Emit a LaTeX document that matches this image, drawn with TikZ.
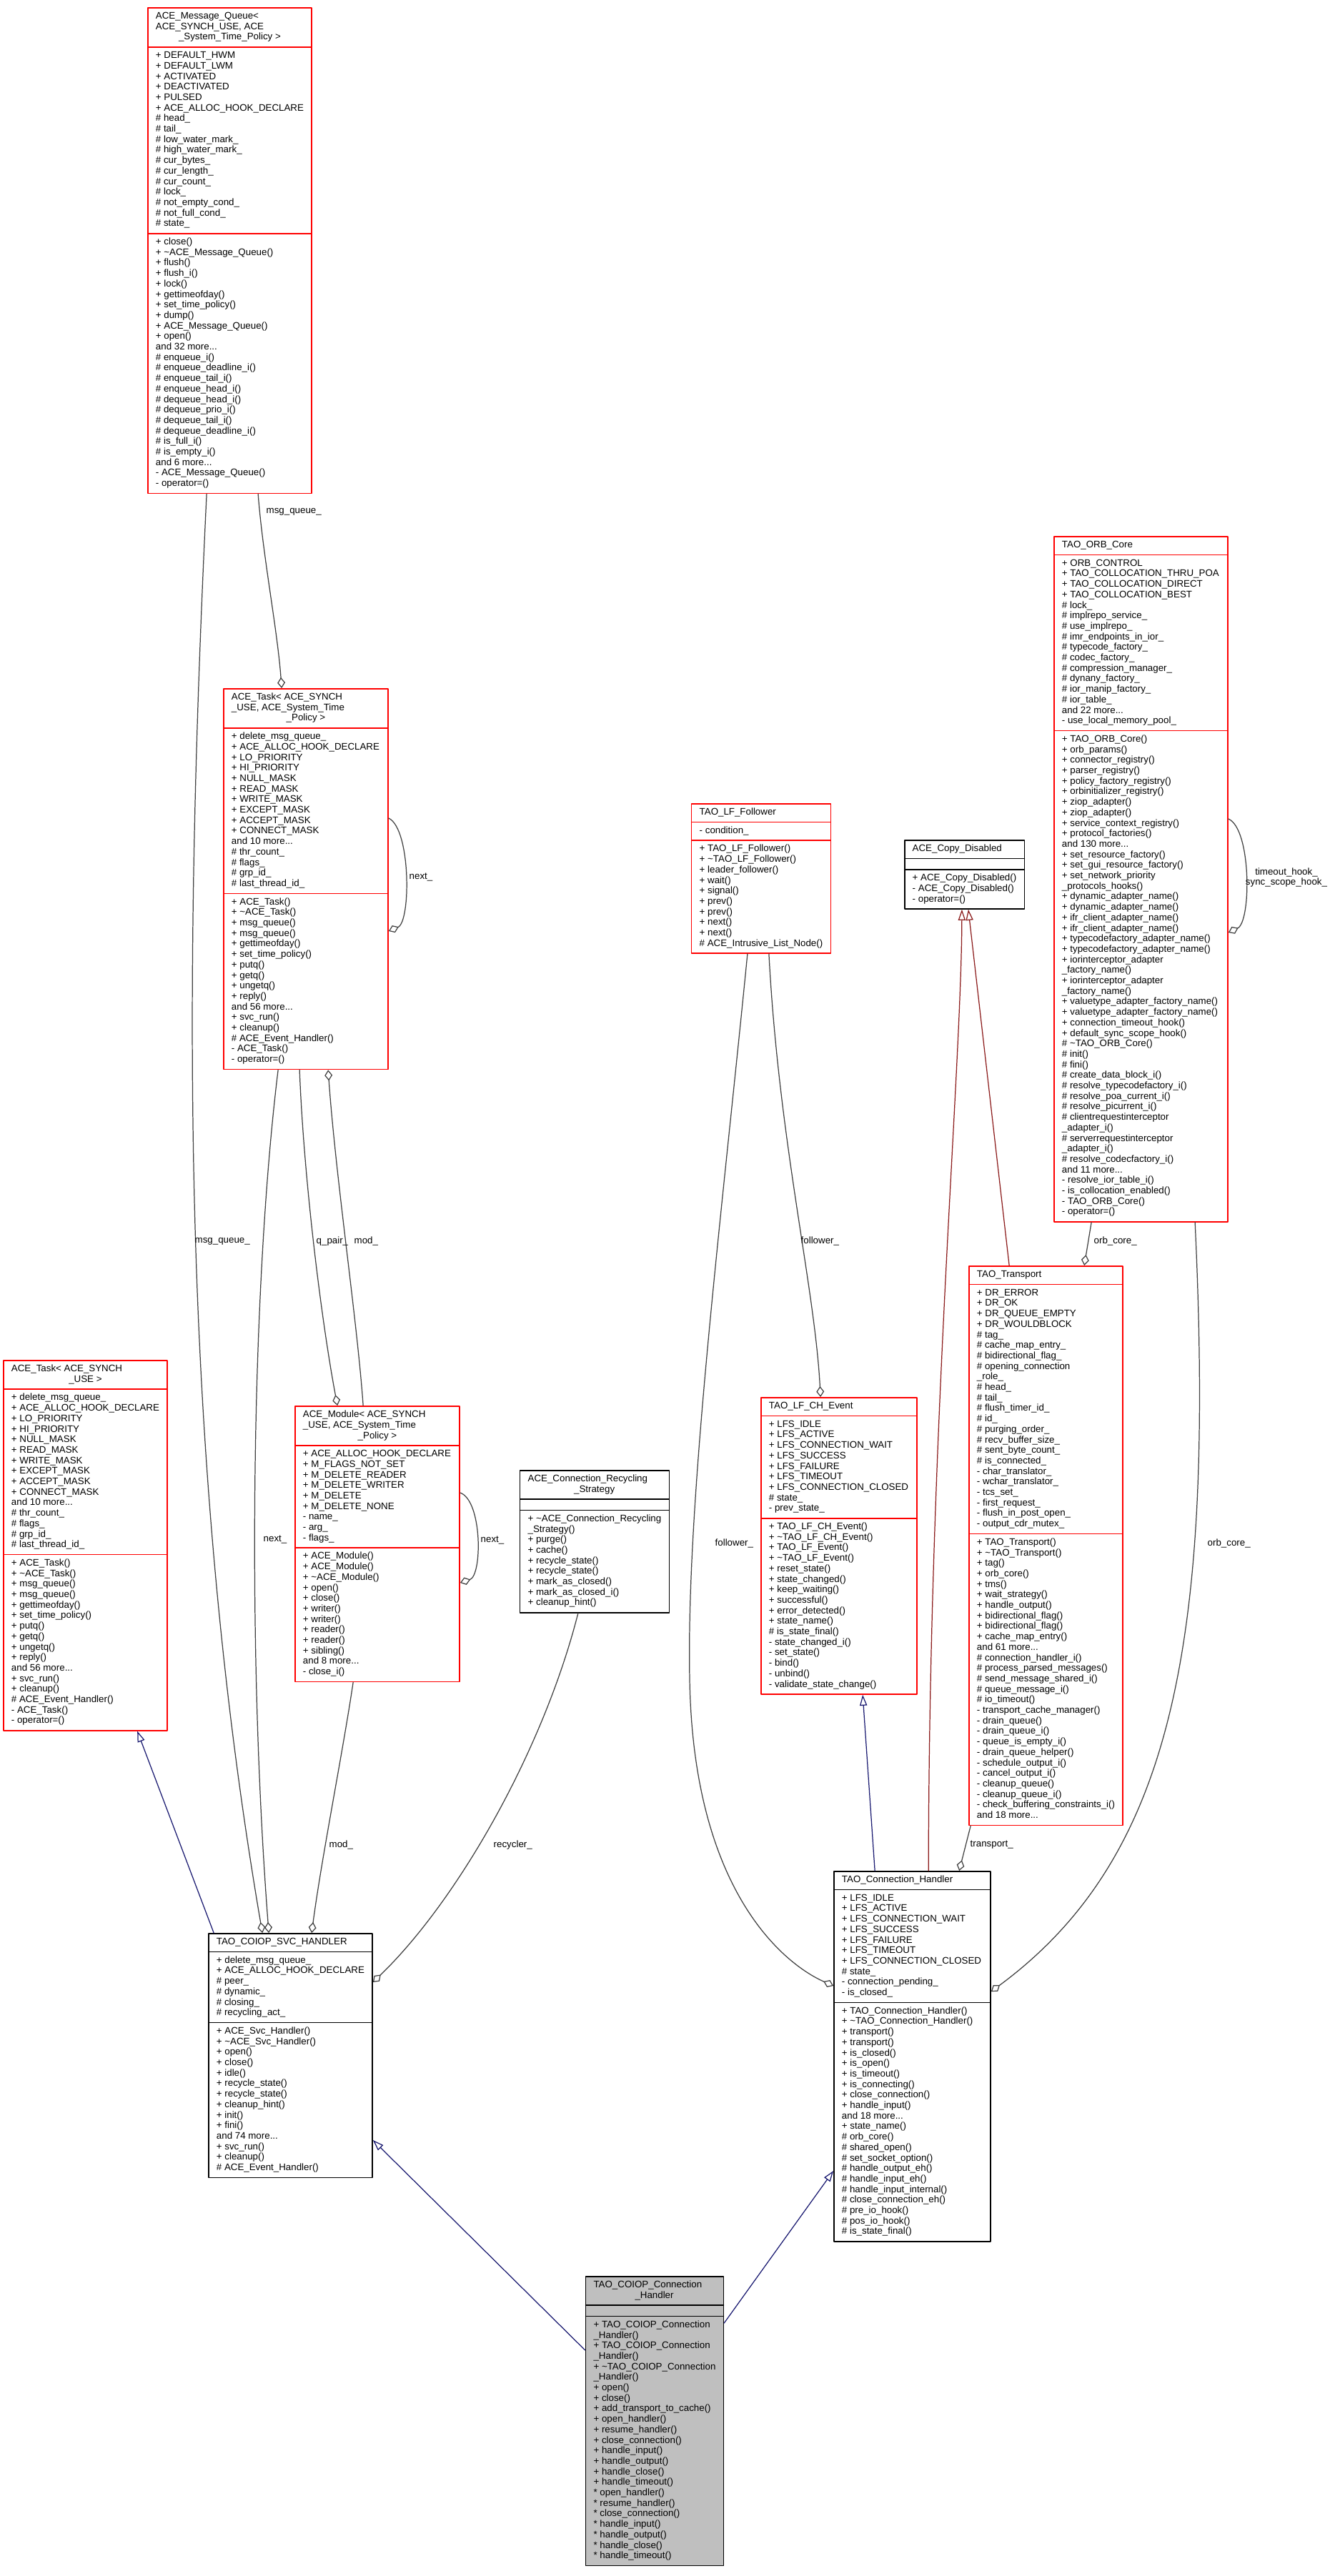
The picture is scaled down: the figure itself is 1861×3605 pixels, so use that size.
\documentclass[tikz,border=0pt]{standalone}
\usepackage{fontspec}
\setmainfont{Liberation Sans}
\usetikzlibrary{arrows.meta,shapes.multipart,calc}
\definecolor{edgegray}{RGB}{64,64,64}
\definecolor{edgeblue}{RGB}{25,25,112}
\definecolor{edgered}{RGB}{139,26,26}
\definecolor{boxgray}{RGB}{191,191,191}
\newdimen\pxu \pxu=0.01cm
\newcommand{\sect}[1]{\begin{tabular}{@{}l@{}}#1\end{tabular}}
\newcommand{\hdr}[2]{\begin{tabular}{@{}p{#1\pxu}@{}}#2\end{tabular}}
\newcommand{\lc}[1]{\multicolumn{1}{@{}c@{}}{#1}}
\newcommand{\tld}{\textasciitilde}
\newcommand{\taskattrs}{\sect{+ delete\_msg\_queue\_\\+ ACE\_ALLOC\_HOOK\_DECLARE\\+ LO\_PRIORITY\\+ HI\_PRIORITY\\+ NULL\_MASK\\+ READ\_MASK\\+ WRITE\_MASK\\+ EXCEPT\_MASK\\+ ACCEPT\_MASK\\+ CONNECT\_MASK\\and 10 more...\\\# thr\_count\_\\\# flags\_\\\# grp\_id\_\\\# last\_thread\_id\_}}
\newcommand{\taskops}{\sect{+ ACE\_Task()\\+ \tld ACE\_Task()\\+ msg\_queue()\\+ msg\_queue()\\+ gettimeofday()\\+ set\_time\_policy()\\+ putq()\\+ getq()\\+ ungetq()\\+ reply()\\and 56 more...\\+ svc\_run()\\+ cleanup()\\\# ACE\_Event\_Handler()\\- ACE\_Task()\\- operator=()}}
\newcommand{\lfsstates}{+ LFS\_IDLE\\+ LFS\_ACTIVE\\+ LFS\_CONNECTION\_WAIT\\+ LFS\_SUCCESS\\+ LFS\_FAILURE\\+ LFS\_TIMEOUT\\+ LFS\_CONNECTION\_CLOSED}
\tikzset{
  every picture/.style={line join=round, line cap=round},
  dxfont/.style={font=\fontsize{3.79pt}{4.18pt}\selectfont},
  cls/.style={rectangle split, rectangle split parts=3, draw=red, fill=white,
    line width=0.45pt, anchor=north, inner xsep=0.11cm, inner ysep=0.047cm,
    rectangle split part align={left,left,left}, dxfont},
  known/.style={cls, draw=black},
  agg/.style={draw=edgegray, line width=0.35pt, -{Diamond[open,length=4.3pt,width=3.1pt]}},
  pub/.style={draw=edgeblue, line width=0.35pt, -{Triangle[open,length=4.3pt,width=2.9pt]}},
  priv/.style={draw=edgered, line width=0.35pt, -{Triangle[open,length=4.3pt,width=2.9pt]}},
  lbl/.style={dxfont, inner sep=0pt, anchor=west},
}
\begin{document}
\begin{tikzpicture}[x=0.01cm,y=-0.01cm]
\useasboundingbox (0,0) rectangle (1861,3605);
% classes
\node[cls, minimum width=2.29cm] (mq) at (321.5,10) {\hdr{207}{ACE\_Message\_Queue<\\ACE\_SYNCH\_USE, ACE\\\lc{\_System\_Time\_Policy >}}
  \nodepart{two}\sect{+ DEFAULT\_HWM\\+ DEFAULT\_LWM\\+ ACTIVATED\\+ DEACTIVATED\\+ PULSED\\+ ACE\_ALLOC\_HOOK\_DECLARE\\\# head\_\\\# tail\_\\\# low\_water\_mark\_\\\# high\_water\_mark\_\\\# cur\_bytes\_\\\# cur\_length\_\\\# cur\_count\_\\\# lock\_\\\# not\_empty\_cond\_\\\# not\_full\_cond\_\\\# state\_}
  \nodepart{three}\sect{+ close()\\+ \tld ACE\_Message\_Queue()\\+ flush()\\+ flush\_i()\\+ lock()\\+ gettimeofday()\\+ set\_time\_policy()\\+ dump()\\+ ACE\_Message\_Queue()\\+ open()\\and 32 more...\\\# enqueue\_i()\\\# enqueue\_deadline\_i()\\\# enqueue\_tail\_i()\\\# enqueue\_head\_i()\\\# dequeue\_head\_i()\\\# dequeue\_prio\_i()\\\# dequeue\_tail\_i()\\\# dequeue\_deadline\_i()\\\# is\_full\_i()\\\# is\_empty\_i()\\and 6 more...\\- ACE\_Message\_Queue()\\- operator=()}};
\node[cls, minimum width=2.30cm] (task) at (428,963) {\hdr{208}{ACE\_Task< ACE\_SYNCH\\\_USE, ACE\_System\_Time\\\lc{\_Policy >}}
  \nodepart{two}\taskattrs \nodepart{three}\taskops};
\node[cls, minimum width=2.43cm] (orb) at (1596.5,750) {\hdr{221}{\lc{TAO\_ORB\_Core}}
  \nodepart{two}\sect{+ ORB\_CONTROL\\+ TAO\_COLLOCATION\_THRU\_POA\\+ TAO\_COLLOCATION\_DIRECT\\+ TAO\_COLLOCATION\_BEST\\\# lock\_\\\# implrepo\_service\_\\\# use\_implrepo\_\\\# imr\_endpoints\_in\_ior\_\\\# typecode\_factory\_\\\# codec\_factory\_\\\# compression\_manager\_\\\# dynany\_factory\_\\\# ior\_manip\_factory\_\\\# ior\_table\_\\and 22 more...\\- use\_local\_memory\_pool\_}
  \nodepart{three}\sect{+ TAO\_ORB\_Core()\\+ orb\_params()\\+ connector\_registry()\\+ parser\_registry()\\+ policy\_factory\_registry()\\+ orbinitializer\_registry()\\+ ziop\_adapter()\\+ ziop\_adapter()\\+ service\_context\_registry()\\+ protocol\_factories()\\and 130 more...\\+ set\_resource\_factory()\\+ set\_gui\_resource\_factory()\\+ set\_network\_priority\\\_protocols\_hooks()\\+ dynamic\_adapter\_name()\\+ dynamic\_adapter\_name()\\+ ifr\_client\_adapter\_name()\\+ ifr\_client\_adapter\_name()\\+ typecodefactory\_adapter\_name()\\+ typecodefactory\_adapter\_name()\\+ iorinterceptor\_adapter\\\_factory\_name()\\+ iorinterceptor\_adapter\\\_factory\_name()\\+ valuetype\_adapter\_factory\_name()\\+ valuetype\_adapter\_factory\_name()\\+ connection\_timeout\_hook()\\+ default\_sync\_scope\_hook()\\\# \tld TAO\_ORB\_Core()\\\# init()\\\# fini()\\\# create\_data\_block\_i()\\\# resolve\_typecodefactory\_i()\\\# resolve\_poa\_current\_i()\\\# resolve\_picurrent\_i()\\\# clientrequestinterceptor\\\_adapter\_i()\\\# serverrequestinterceptor\\\_adapter\_i()\\\# resolve\_codecfactory\_i()\\and 11 more...\\- resolve\_ior\_table\_i()\\- is\_collocation\_enabled()\\- TAO\_ORB\_Core()\\- operator=()}};
\node[cls, minimum width=1.92cm] (follow) at (1065,1124) {\hdr{170}{\lc{TAO\_LF\_Follower}}
  \nodepart{two}\sect{- condition\_}
  \nodepart{three}\sect{+ TAO\_LF\_Follower()\\+ \tld TAO\_LF\_Follower()\\+ leader\_follower()\\+ wait()\\+ signal()\\+ prev()\\+ prev()\\+ next()\\+ next()\\\# ACE\_Intrusive\_List\_Node()}};
\node[known, minimum width=1.67cm] (copy) at (1349.5,1175) {\hdr{145}{\lc{ACE\_Copy\_Disabled}}
  \nodepart{two}\sect{}
  \nodepart{three}\sect{+ ACE\_Copy\_Disabled()\\- ACE\_Copy\_Disabled()\\- operator=()}};
\node[cls, minimum width=2.29cm] (tasku) at (119.5,1903) {\hdr{207}{ACE\_Task< ACE\_SYNCH\\\lc{\_USE >}}
  \nodepart{two}\taskattrs \nodepart{three}\taskops};
\node[cls, minimum width=2.30cm] (module) at (528,1967) {\hdr{208}{ACE\_Module< ACE\_SYNCH\\\_USE, ACE\_System\_Time\\\lc{\_Policy >}}
  \nodepart{two}\sect{+ ACE\_ALLOC\_HOOK\_DECLARE\\+ M\_FLAGS\_NOT\_SET\\+ M\_DELETE\_READER\\+ M\_DELETE\_WRITER\\+ M\_DELETE\\+ M\_DELETE\_NONE\\- name\_\\- arg\_\\- flags\_}
  \nodepart{three}\sect{+ ACE\_Module()\\+ ACE\_Module()\\+ \tld ACE\_Module()\\+ open()\\+ close()\\+ writer()\\+ writer()\\+ reader()\\+ reader()\\+ sibling()\\and 8 more...\\- close\_i()}};
\node[known, minimum width=2.08cm] (recyc) at (832,2057) {\hdr{186}{ACE\_Connection\_Recycling\\\lc{\_Strategy}}
  \nodepart{two}\sect{}
  \nodepart{three}\sect{+ \tld ACE\_Connection\_Recycling\\\_Strategy()\\+ purge()\\+ cache()\\+ recycle\_state()\\+ recycle\_state()\\+ mark\_as\_closed()\\+ mark\_as\_closed\_i()\\+ cleanup\_hint()}};
\node[cls, minimum width=2.18cm] (lfch) at (1174,1955) {\hdr{196}{\lc{TAO\_LF\_CH\_Event}}
  \nodepart{two}\sect{\lfsstates\\\# state\_\\- prev\_state\_}
  \nodepart{three}\sect{+ TAO\_LF\_CH\_Event()\\+ \tld TAO\_LF\_CH\_Event()\\+ TAO\_LF\_Event()\\+ \tld TAO\_LF\_Event()\\+ reset\_state()\\+ state\_changed()\\+ keep\_waiting()\\+ successful()\\+ error\_detected()\\+ state\_name()\\\# is\_state\_final()\\- state\_changed\_i()\\- set\_state()\\- bind()\\- unbind()\\- validate\_state\_change()}};
\node[cls, minimum width=2.11cm] (transp) at (1463.5,1771) {\hdr{189}{\lc{TAO\_Transport}}
  \nodepart{two}\sect{+ DR\_ERROR\\+ DR\_OK\\+ DR\_QUEUE\_EMPTY\\+ DR\_WOULDBLOCK\\\# tag\_\\\# cache\_map\_entry\_\\\# bidirectional\_flag\_\\\# opening\_connection\\\_role\_\\\# head\_\\\# tail\_\\\# flush\_timer\_id\_\\\# id\_\\\# purging\_order\_\\\# recv\_buffer\_size\_\\\# sent\_byte\_count\_\\\# is\_connected\_\\- char\_translator\_\\- wchar\_translator\_\\- tcs\_set\_\\- first\_request\_\\- flush\_in\_post\_open\_\\- output\_cdr\_mutex\_}
  \nodepart{three}\sect{+ TAO\_Transport()\\+ \tld TAO\_Transport()\\+ tag()\\+ orb\_core()\\+ tms()\\+ wait\_strategy()\\+ handle\_output()\\+ bidirectional\_flag()\\+ bidirectional\_flag()\\+ cache\_map\_entry()\\and 61 more...\\\# connection\_handler\_i()\\\# process\_parsed\_messages()\\\# send\_message\_shared\_i()\\\# queue\_message\_i()\\\# io\_timeout()\\- transport\_cache\_manager()\\- drain\_queue()\\- drain\_queue\_i()\\- queue\_is\_empty\_i()\\- drain\_queue\_helper()\\- schedule\_output\_i()\\- cancel\_output\_i()\\- cleanup\_queue()\\- cleanup\_queue\_i()\\- check\_buffering\_constraints\_i()\\and 18 more...}};
\node[known, minimum width=2.29cm] (svc) at (406.5,2705) {\hdr{207}{\lc{TAO\_COIOP\_SVC\_HANDLER}}
  \nodepart{two}\sect{+ delete\_msg\_queue\_\\+ ACE\_ALLOC\_HOOK\_DECLARE\\\# peer\_\\\# dynamic\_\\\# closing\_\\\# recycling\_act\_}
  \nodepart{three}\sect{+ ACE\_Svc\_Handler()\\+ \tld ACE\_Svc\_Handler()\\+ open()\\+ close()\\+ idle()\\+ recycle\_state()\\+ recycle\_state()\\+ cleanup\_hint()\\+ init()\\+ fini()\\and 74 more...\\+ svc\_run()\\+ cleanup()\\\# ACE\_Event\_Handler()}};
\node[known, minimum width=2.19cm] (tch) at (1276.5,2618) {\hdr{197}{\lc{TAO\_Connection\_Handler}}
  \nodepart{two}\sect{\lfsstates\\\# state\_\\- connection\_pending\_\\- is\_closed\_}
  \nodepart{three}\sect{+ TAO\_Connection\_Handler()\\+ \tld TAO\_Connection\_Handler()\\+ transport()\\+ transport()\\+ is\_closed()\\+ is\_open()\\+ is\_timeout()\\+ is\_connecting()\\+ close\_connection()\\+ handle\_input()\\and 18 more...\\+ state\_name()\\\# orb\_core()\\\# shared\_open()\\\# set\_socket\_option()\\\# handle\_output\_eh()\\\# handle\_input\_eh()\\\# handle\_input\_internal()\\\# close\_connection\_eh()\\\# pre\_io\_hook()\\\# pos\_io\_hook()\\\# is\_state\_final()}};
\node[known, fill=boxgray, minimum width=1.92cm] (coiop) at (916,3185) {\hdr{170}{TAO\_COIOP\_Connection\\\lc{\_Handler}}
  \nodepart{two}\sect{}
  \nodepart{three}\sect{+ TAO\_COIOP\_Connection\\\_Handler()\\+ TAO\_COIOP\_Connection\\\_Handler()\\+ \tld TAO\_COIOP\_Connection\\\_Handler()\\+ open()\\+ close()\\+ add\_transport\_to\_cache()\\+ open\_handler()\\+ resume\_handler()\\+ close\_connection()\\+ handle\_input()\\+ handle\_output()\\+ handle\_close()\\+ handle\_timeout()\\{*} open\_handler()\\{*} resume\_handler()\\{*} close\_connection()\\{*} handle\_input()\\{*} handle\_output()\\{*} handle\_close()\\{*} handle\_timeout()}};
% members
\draw[agg] ($(mq.south west)+(155,0)$) .. controls (368,780) and (388,880) .. ($(task.north west)+(82,0)$);
\draw[agg] ($(mq.south west)+(83,0)$) .. controls (255,1400) and (255,2050) .. ($(svc.north west)+(76,0)$);
\draw[agg] ($(task.north east)+(0,182)$) .. controls (575,1160) and (575,1290) .. ($(task.north east)+(0,340)$);
\draw[agg] ($(task.south west)+(107,0)$) .. controls (425,1650) and (450,1850) .. ($(module.north west)+(60,0)$);
\draw[agg] ($(module.north west)+(96,0)$) .. controls (500,1850) and (470,1650) .. ($(task.south west)+(147,0)$);
\draw[agg] ($(task.south west)+(77,0)$) .. controls (352,1800) and (345,2300) .. ($(svc.north west)+(85,0)$);
\draw[agg] ($(module.north east)+(0,122)$) .. controls (675,2100) and (675,2205) .. ($(module.north east)+(0,248)$);
\draw[agg] ($(module.south west)+(82,0)$) .. controls (480,2450) and (450,2600) .. ($(svc.north west)+(145,0)$);
\draw[agg] ($(recyc.south west)+(82,0)$) .. controls (760,2450) and (640,2660) .. ($(svc.north east)+(0,69)$);
\draw[agg] ($(follow.south west)+(109,0)$) .. controls (1090,1600) and (1140,1800) .. ($(lfch.north west)+(84,0)$);
\draw[agg] ($(follow.south west)+(79,0)$) .. controls (1010,1700) and (960,2100) .. (965,2350)
  .. controls (970,2650) and (1100,2750) .. ($(tch.north west)+(0,161)$);
\draw[agg] ($(transp.south west)+(3,0)$) -- ($(tch.north west)+(176,0)$);
\draw[agg] ($(orb.south west)+(53,0)$) -- ($(transp.north west)+(162,0)$);
\draw[agg] ($(orb.south west)+(198,0)$) .. controls (1700,2300) and (1640,2600) .. ($(tch.north east)+(0,169)$);
\draw[agg] ($(orb.north east)+(0,396)$) .. controls (1751,1160) and (1751,1290) .. ($(orb.north east)+(0,555)$);
% bases
\draw[pub] ($(svc.north west)+(8,0)$) -- ($(tasku.south west)+(188,0)$);
\draw[pub] ($(coiop.north west)+(0,104)$) -- ($(svc.north east)+(0,290)$);
\draw[pub] ($(coiop.north east)+(0,66)$) -- ($(tch.north west)+(0,420)$);
\draw[pub] ($(tch.north west)+(58,0)$) -- ($(lfch.south west)+(143,0)$);
\draw[priv] ($(tch.north west)+(133,0)$) .. controls (1300,2000) and (1345,1500) .. ($(copy.south west)+(81,0)$);
\draw[priv] ($(transp.north west)+(57,0)$) -- ($(copy.south west)+(90,0)$);
% member names
\node[lbl] (nmq) at (372,716) {msg\_queue\_};
\node[lbl] (nmq2) at (272,1737) {msg\_queue\_};
\node[lbl] (ntask) at (572,1227) {next\_};
\node[lbl] (nqpair) at (442,1737) {q\_pair\_};
\node[lbl] (nmod) at (495,1737) {mod\_};
\node[lbl] (nnext) at (368,2154) {next\_};
\node[lbl] (nmodule) at (672,2155) {next\_};
\node[lbl] (nmod2) at (460,2582) {mod\_};
\node[lbl] (nrecyc) at (690,2582) {recycler\_};
\node[lbl] (nfol) at (1120,1737) {follower\_};
\node[lbl] (nfol2) at (1000,2160) {follower\_};
\node[lbl] (ntransp) at (1357,2582) {transport\_};
\node[lbl] (norb) at (1530,1737) {orb\_core\_};
\node[lbl] (norb2) at (1689,2160) {orb\_core\_};
\node[dxfont, inner sep=0pt, align=center] (nhook) at (1800,1228) {timeout\_hook\_\\sync\_scope\_hook\_};
\end{tikzpicture}
\end{document}
